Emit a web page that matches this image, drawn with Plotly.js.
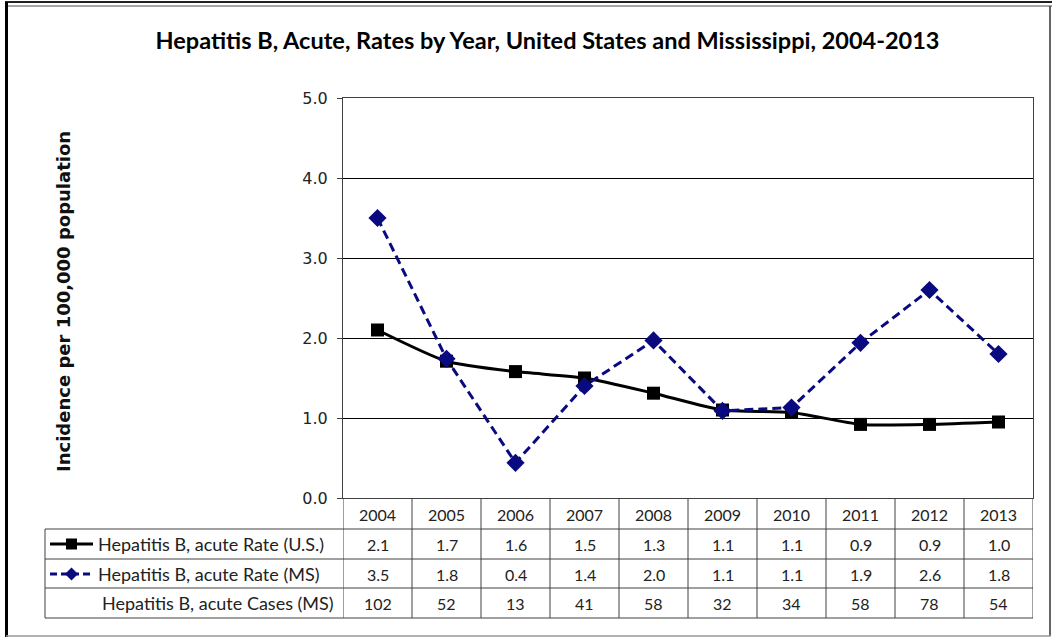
<!DOCTYPE html>
<html><head><meta charset="utf-8">
<script src="https://cdn.plot.ly/plotly-3.0.1.min.js"></script>
<style>html,body{margin:0;padding:0;background:#fff}</style>
</head><body><div id="chart" style="width:1055px;height:639px"></div>
<script>
const years = ['2004','2005','2006','2007','2008','2009','2010','2011','2012','2013'];
const usRate = [2.10,1.71,1.58,1.50,1.31,1.10,1.07,0.92,0.92,0.95];
const msRate = [3.50,1.74,0.44,1.40,1.97,1.09,1.13,1.94,2.60,1.80];
const usRateLabels = ['2.1','1.7','1.6','1.5','1.3','1.1','1.1','0.9','0.9','1.0'];
const msRateLabels = ['3.5','1.8','0.4','1.4','2.0','1.1','1.1','1.9','2.6','1.8'];
const msCasesLabels = ['102','52','13','41','58','32','34','58','78','54'];
const rowLabels = ['Hepatitis B, acute Rate (U.S.)','Hepatitis B, acute Rate (MS)','Hepatitis B, acute Cases (MS)'];
const yTicks = [0,1,2,3,4,5];

// pixel -> paper helpers (plot area: x 343..1033, y 98..498)
const L=343, R=1033, T=98, B=498;
const px = p => (p-L)/(R-L);
const py = p => (B-p)/(B-T);
const xi = years.map((_,i)=>i);

const numFont = {family:'Lato, "DejaVu Sans", sans-serif', size:16, color:'#222'};
const labFont = {family:'Lato, "DejaVu Sans", sans-serif', size:18, color:'#222'};
const lineCol = '#404040';
const navy = '#0a0a80';

const traces = [
  {x:xi, y:usRate, type:'scatter', mode:'lines+markers', name:rowLabels[0],
   line:{color:'#000', width:3, shape:'spline', smoothing:0.6}, marker:{symbol:'square', size:13, color:'#000'}, hoverinfo:'skip'},
  {x:xi, y:msRate, type:'scatter', mode:'lines+markers', name:rowLabels[1],
   line:{color:navy, width:3, dash:'9px,5px'}, marker:{symbol:'diamond', size:14, color:navy}, hoverinfo:'skip'}
];

const ann = [];
const rows = [years, usRateLabels, msRateLabels, msCasesLabels];
const rowY = [514, 544, 574, 603];
rows.forEach((r,ri)=>{
  r.forEach((t,i)=>ann.push({x:i, xref:'x', y:py(rowY[ri]), yref:'paper', text:t, showarrow:false, font:numFont, xanchor:'center', yanchor:'middle'}));
});
ann.push({x:px(96), xref:'paper', y:py(544), yref:'paper', text:rowLabels[0], showarrow:false, font:labFont, xanchor:'left', yanchor:'middle'});
ann.push({x:px(96), xref:'paper', y:py(574), yref:'paper', text:rowLabels[1], showarrow:false, font:labFont, xanchor:'left', yanchor:'middle'});
ann.push({x:px(336), xref:'paper', y:py(603), yref:'paper', text:rowLabels[2], showarrow:false, font:labFont, xanchor:'right', yanchor:'middle'});
// y axis title
ann.push({x:px(63), xref:'paper', y:py(302), yref:'paper', text:'Incidence per 100,000 population', textangle:-90, showarrow:false,
  font:{family:'"DejaVu Sans", sans-serif', size:18, color:'#111', weight:'bold'}, xanchor:'center', yanchor:'middle'});

const shapes = [];
// column dividers
for (let i=0;i<=years.length;i++){
  shapes.push({type:'line', xref:'x', yref:'paper', x0:i-0.5, x1:i-0.5, y0:py(498), y1:py(618), line:{color:lineCol, width:1}});
}
[529,559,588,618].forEach(yy=>shapes.push({type:'line', xref:'paper', yref:'paper', x0:px(45), x1:1, y0:py(yy), y1:py(yy), line:{color:lineCol, width:1}}));
shapes.push({type:'line', xref:'paper', yref:'paper', x0:px(45), x1:px(45), y0:py(529), y1:py(618), line:{color:lineCol, width:1}});
// legend keys
shapes.push({type:'line', xref:'paper', yref:'paper', x0:px(50), x1:px(93), y0:py(544), y1:py(544), line:{color:'#000', width:3}});
shapes.push({type:'rect', xref:'paper', yref:'paper', x0:px(66), x1:px(77), y0:py(538.5), y1:py(549.5), fillcolor:'#000', line:{width:0}});
shapes.push({type:'line', xref:'paper', yref:'paper', x0:px(50), x1:px(93), y0:py(574), y1:py(574), line:{color:navy, width:3, dash:'7px,4px'}});
shapes.push({type:'path', xref:'paper', yref:'paper',
  path:`M ${px(71.5)} ${py(567.5)} L ${px(78)} ${py(574)} L ${px(71.5)} ${py(580.5)} L ${px(65)} ${py(574)} Z`, fillcolor:navy, line:{width:0}});
// outer frame
shapes.push({type:'line', xref:'paper', yref:'paper', x0:px(5), x1:px(1052), y0:py(2), y1:py(2), line:{color:'#222', width:2}});
shapes.push({type:'line', xref:'paper', yref:'paper', x0:px(5), x1:px(1052), y0:py(6), y1:py(6), line:{color:'#888', width:1.5}});
shapes.push({type:'line', xref:'paper', yref:'paper', x0:px(6.5), x1:px(6.5), y0:py(2), y1:py(637), line:{color:'#000', width:3}});
shapes.push({type:'line', xref:'paper', yref:'paper', x0:px(1050), x1:px(1050), y0:py(6), y1:py(636), line:{color:'#333', width:1.5}});
shapes.push({type:'line', xref:'paper', yref:'paper', x0:px(6), x1:px(1051), y0:py(636), y1:py(636), line:{color:'#999', width:1.5}});

const layout = {
  width:1055, height:639,
  margin:{l:L, r:1055-R, t:T, b:639-B, pad:0},
  paper_bgcolor:'#fff', plot_bgcolor:'#fff',
  showlegend:false,
  title:{text:'Hepatitis B, Acute, Rates by Year, United States and Mississippi, 2004-2013',
    x:547.5/1055, xref:'container', xanchor:'center', y:1-41/639, yref:'container', yanchor:'middle',
    font:{family:'Lato, sans-serif', size:23.5, color:'#000', weight:'bold'}},
  xaxis:{range:[-0.5,9.5], showticklabels:false, ticks:'', showgrid:false, zeroline:false,
    showline:true, mirror:true, linecolor:lineCol, linewidth:1, fixedrange:true},
  yaxis:{range:[0,5], tickvals:yTicks, ticktext:yTicks.map(v=>v.toFixed(1)), showgrid:true, gridcolor:'#000', gridwidth:1,
    zeroline:false, showline:true, mirror:true, linecolor:lineCol, linewidth:1,
    ticks:'outside', ticklen:5, tickcolor:lineCol, ticklabelstandoff:6,
    tickfont:{family:'"DejaVu Sans", sans-serif', size:16, color:'#222'}, fixedrange:true},
  annotations:ann, shapes:shapes
};
Plotly.newPlot('chart', traces, layout, {displayModeBar:false, staticPlot:true});
</script></body></html>
